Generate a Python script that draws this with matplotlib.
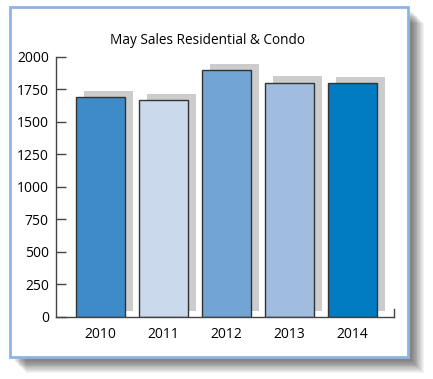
import numpy as np
import matplotlib
matplotlib.use("Agg")
import matplotlib.pyplot as plt
from matplotlib.patches import Rectangle

plt.rcParams['font.family'] = ['Open Sans', 'DejaVu Sans']

years = ['2010', '2011', '2012', '2013', '2014']
sales = [1690, 1665, 1895, 1800, 1795]
colors = ['#3f8bc9', '#cad9ec', '#72a4d5', '#a0bde0', '#017bc1']
yticks = [0, 250, 500, 750, 1000, 1250, 1500, 1750, 2000]

W, H = 433, 379
fig = plt.figure(figsize=(W / 100, H / 100), dpi=100)

# soft drop shadow behind the frame
bx0, by0, bx1, by1 = 10, 7, 408, 357
for i in range(14):
    off = 4 + i * 0.9
    fig.patches.append(Rectangle(((bx0 + off) / W, 1 - (by1 + off) / H),
                                 (bx1 - bx0) / W, (by1 - by0) / H,
                                 transform=fig.transFigure, facecolor='#000000',
                                 edgecolor='none', alpha=0.045, zorder=0))
fig.patches.append(Rectangle((bx0 / W, 1 - by1 / H), (bx1 - bx0) / W, (by1 - by0) / H,
                             transform=fig.transFigure, facecolor='white',
                             edgecolor='#8db4e2', linewidth=2, zorder=1))

ax = fig.add_axes([55.7 / W, 1 - 317 / H, (394 - 55.7) / W, (317 - 56.7) / H])
ax.set_zorder(2)
ax.patch.set_alpha(0)

x = np.arange(len(years))
ax.bar(x + 0.13, sales, width=0.78, bottom=48, color='#cccccc', edgecolor='none', zorder=1)
ax.bar(x, sales, width=0.78, color=colors, edgecolor='#333333', linewidth=1.0, zorder=2)

ax.set_xlim(-0.71, 4.66)
ax.set_ylim(0, 2000)
ax.set_yticks(yticks)
ax.set_yticklabels([str(v) for v in yticks], fontsize=10)
ax.set_xticks(x)
ax.set_xticklabels(years, fontsize=10)
ax.tick_params(axis='x', length=0, pad=7)
ax.tick_params(axis='y', length=7, width=1, color='#444444', direction='in', pad=5)
for s in ['top', 'right']:
    ax.spines[s].set_visible(False)
for s in ['left', 'bottom']:
    ax.spines[s].set_color('#444444')
    ax.spines[s].set_linewidth(1)
# small end tick at the right of the x axis
ax.plot([1, 1], [0, 0.03], transform=ax.transAxes, color='#444444', lw=1, clip_on=False)

fig.text(208 / W, 1 - 40 / H, 'May Sales Residential & Condo', fontsize=9.8,
         ha='center', va='center', zorder=3)

fig.savefig('out.png', dpi=100)
